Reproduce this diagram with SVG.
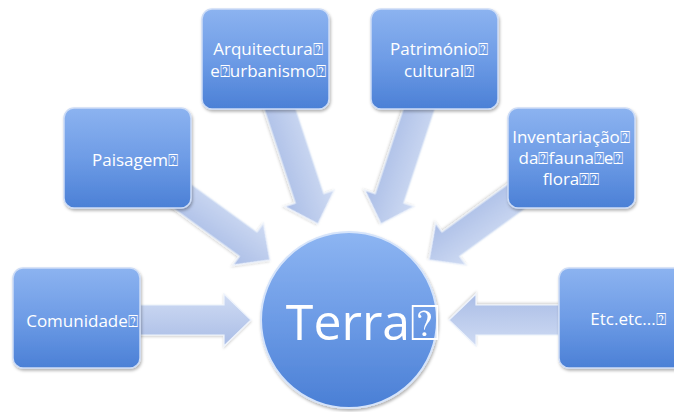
<svg xmlns="http://www.w3.org/2000/svg" width="674" height="412" viewBox="0 0 674 412">
  <defs>
    <linearGradient id="boxGrad" x1="0" y1="0" x2="0" y2="1">
      <stop offset="0" stop-color="#8cb3f0"/>
      <stop offset="0.5" stop-color="#6e9ce6"/>
      <stop offset="1" stop-color="#4b80d6"/>
    </linearGradient>
    <linearGradient id="circGrad" x1="0" y1="0" x2="0" y2="1">
      <stop offset="0" stop-color="#8db5f2"/>
      <stop offset="0.5" stop-color="#6c9be6"/>
      <stop offset="1" stop-color="#4a7fd5"/>
    </linearGradient>
    <linearGradient id="arrowGrad" x1="0" y1="0" x2="0" y2="1">
      <stop offset="0" stop-color="#cfdbf3"/>
      <stop offset="1" stop-color="#aabde6"/>
    </linearGradient>
    <filter id="shadow" x="-20%" y="-20%" width="140%" height="140%">
      <feDropShadow dx="1" dy="2" stdDeviation="1.5" flood-color="#000" flood-opacity="0.3"/>
    </filter>
    <filter id="ashadow" x="-20%" y="-20%" width="140%" height="140%">
      <feDropShadow dx="0" dy="1.5" stdDeviation="1.2" flood-color="#000" flood-opacity="0.18"/>
    </filter>
    <path id="arrow" d="M -1,-15 L -27,-15 L -27,-26 L 0,0 L -27,26 L -27,15 L -1,15 Z"/>
  </defs>
  <style>
    .box { fill: url(#boxGrad); stroke: #cddcf6; stroke-width: 1.5; filter: url(#shadow); }
    .arr { fill: url(#arrowGrad); stroke: #eef3fc; stroke-width: 1.2; filter: url(#ashadow); }
    .lbl { font-family: "Open Sans", "DejaVu Sans", sans-serif; font-size: 17px; fill: #ffffff; text-anchor: middle; }
    .big { font-family: "Open Sans", "DejaVu Sans", sans-serif; font-size: 50px; fill: #ffffff; text-anchor: middle; }
  </style>

  <g id="connectors">
    <path class="arr" transform="translate(251,320)" d="M -111,-15 L -27,-15 L -27,-26 L 0,0 L -27,26 L -27,15 L -111,15 Z"/>
    <path class="arr" transform="translate(449,320) rotate(180)" d="M -110,-15 L -27,-15 L -27,-26 L 0,0 L -27,26 L -27,15 L -110,15 Z"/>
    <path class="arr" transform="translate(270,260) rotate(36)" d="M -120,-15 L -27,-15 L -27,-26 L 0,0 L -27,26 L -27,15 L -120,15 Z"/>
    <path class="arr" transform="translate(429,260) rotate(144)" d="M -120,-15 L -27,-15 L -27,-26 L 0,0 L -27,26 L -27,15 L -120,15 Z"/>
    <path class="arr" transform="translate(318,224) rotate(71.7)" d="M -130,-15 L -27,-15 L -27,-26 L 0,0 L -27,26 L -27,15 L -130,15 Z"/>
    <path class="arr" transform="translate(381,224) rotate(108.3)" d="M -130,-15 L -27,-15 L -27,-26 L 0,0 L -27,26 L -27,15 L -130,15 Z"/>
  </g>

  <g id="terra">
    <circle cx="349" cy="320" r="88" fill="url(#circGrad)" stroke="#d6e4fa" stroke-width="2" filter="url(#shadow)"/>
    <text class="big" x="363" y="340">Terra⍰</text>
  </g>

  <g id="paisagem">
    <rect class="box" x="64" y="108" width="127" height="100" rx="10"/>
    <text class="lbl" x="135" y="166">Paisagem⍰</text>
  </g>

  <g id="arquitectura">
    <rect class="box" x="202" y="9" width="127" height="100" rx="10"/>
    <text class="lbl" x="268" y="55">Arquitectura⍰</text>
    <text class="lbl" x="268" y="77">e⍰urbanismo⍰</text>
  </g>

  <g id="patrimonio">
    <rect class="box" x="371" y="9" width="127" height="100" rx="10"/>
    <text class="lbl" x="439" y="55">Património⍰</text>
    <text class="lbl" x="439" y="77">cultural⍰</text>
  </g>

  <g id="inventariacao">
    <rect class="box" x="508" y="108" width="127" height="100" rx="10"/>
    <text class="lbl" x="571" y="143">Inventariação⍰</text>
    <text class="lbl" x="571" y="164">da⍰fauna⍰e⍰</text>
    <text class="lbl" x="571" y="185">flora⍰⍰</text>
  </g>

  <g id="comunidade">
    <rect class="box" x="13" y="268" width="127" height="100" rx="10"/>
    <text class="lbl" x="82" y="327">Comunidade⍰</text>
  </g>

  <g id="etc">
    <rect class="box" x="559" y="268" width="127" height="100" rx="10"/>
    <text class="lbl" x="628" y="325">Etc.etc...⍰</text>
  </g>
</svg>
